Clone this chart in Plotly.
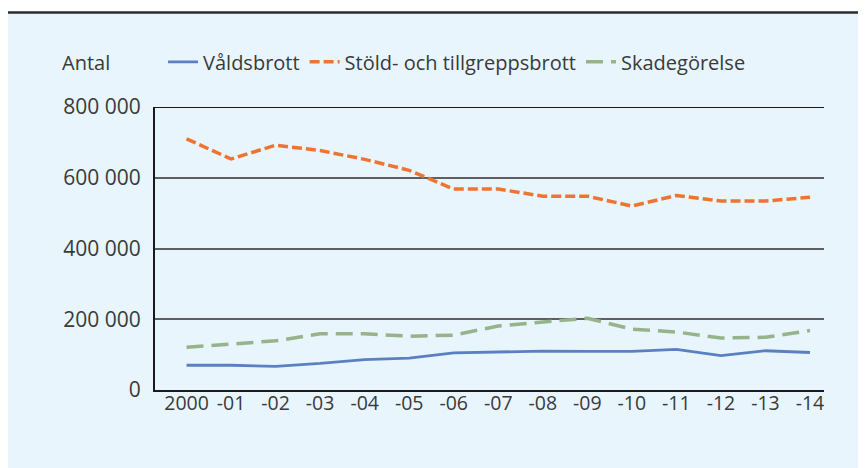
import plotly.graph_objects as go

years = ["2000", "-01", "-02", "-03", "-04", "-05", "-06", "-07", "-08", "-09", "-10", "-11", "-12", "-13", "-14"]
valdsbrott = [70000, 70000, 67000, 75000, 86000, 90000, 105000, 107000, 110000, 109000, 109000, 115000, 97000, 111000, 106000]
stold = [710000, 653000, 692000, 677000, 652000, 621000, 568000, 568000, 548000, 548000, 520000, 550000, 534000, 534000, 545000]
skadegorelse = [121000, 129000, 139000, 159000, 159000, 152000, 155000, 181000, 193000, 203000, 172000, 164000, 147000, 149000, 168000]
y_ticks = [0, 200000, 400000, 600000, 800000]
y_ticktext = ["0", "200 000", "400 000", "600 000", "800 000"]

idx = list(range(len(years)))
FONT = "Open Sans"
TXT = "#3a3a3a"

fig = go.Figure()
fig.add_trace(go.Scatter(x=idx, y=valdsbrott, name="Våldsbrott", mode="lines",
                         line=dict(color="#5B80C2", width=2.8)))
fig.add_trace(go.Scatter(x=idx, y=stold, name="Stöld- och tillgreppsbrott", mode="lines",
                         line=dict(color="#EE7432", width=3.5, dash="10px,4px")))
fig.add_trace(go.Scatter(x=idx, y=skadegorelse, name="Skadegörelse", mode="lines",
                         line=dict(color="#96B38A", width=3.5, dash="17px,8px")))

fig.update_layout(
    width=858, height=460,
    paper_bgcolor="white", plot_bgcolor="rgba(0,0,0,0)",
    margin=dict(l=147, r=42, t=99, b=78),
    font=dict(family=FONT, size=20, color=TXT),
    showlegend=True,
    legend=dict(orientation="h", xref="container", yref="container", x=0.1807, y=0.883,
                xanchor="left", yanchor="middle", bgcolor="rgba(0,0,0,0)",
                font=dict(family=FONT, size=20, color=TXT), itemwidth=30, tracegroupgap=0),
    xaxis=dict(range=[-0.708, 14.315], tickmode="array", tickvals=idx, ticktext=years,
               showgrid=False, zeroline=False, showline=True, linecolor="#1a1a1a", linewidth=2,
               ticks="", ticklabelstandoff=-5, tickfont=dict(size=19.5, color=TXT)),
    yaxis=dict(range=[0, 800000], tickmode="array", tickvals=y_ticks, ticktext=y_ticktext,
               showgrid=True, gridcolor="#5f5f5f", gridwidth=1.5, zeroline=False,
               showline=True, linecolor="#1a1a1a", linewidth=2, ticks="", ticklen=0,
               ticklabelstandoff=8, tickfont=dict(size=21, color=TXT)),
    shapes=[
        dict(type="rect", xref="paper", yref="paper", x0=-0.222, x1=1.1, y0=-0.4, y1=1.334,
             line=dict(width=0), fillcolor="#E8F5FD", layer="below"),
        dict(type="line", xref="paper", yref="paper", x0=-0.222, x1=1.1, y0=1.334, y1=1.334,
             line=dict(color="#2b2b2b", width=2.5)),
        dict(type="line", xref="paper", yref="y", x0=0, x1=1, y0=800000, y1=800000,
             line=dict(color="#1a1a1a", width=2), layer="below"),
    ],
    annotations=[dict(text="Antal", xref="paper", yref="paper", x=-0.142, y=1.159,
                      xanchor="left", yanchor="middle", showarrow=False,
                      font=dict(family=FONT, size=20, color=TXT))],
)

fig.write_html("out.html")
